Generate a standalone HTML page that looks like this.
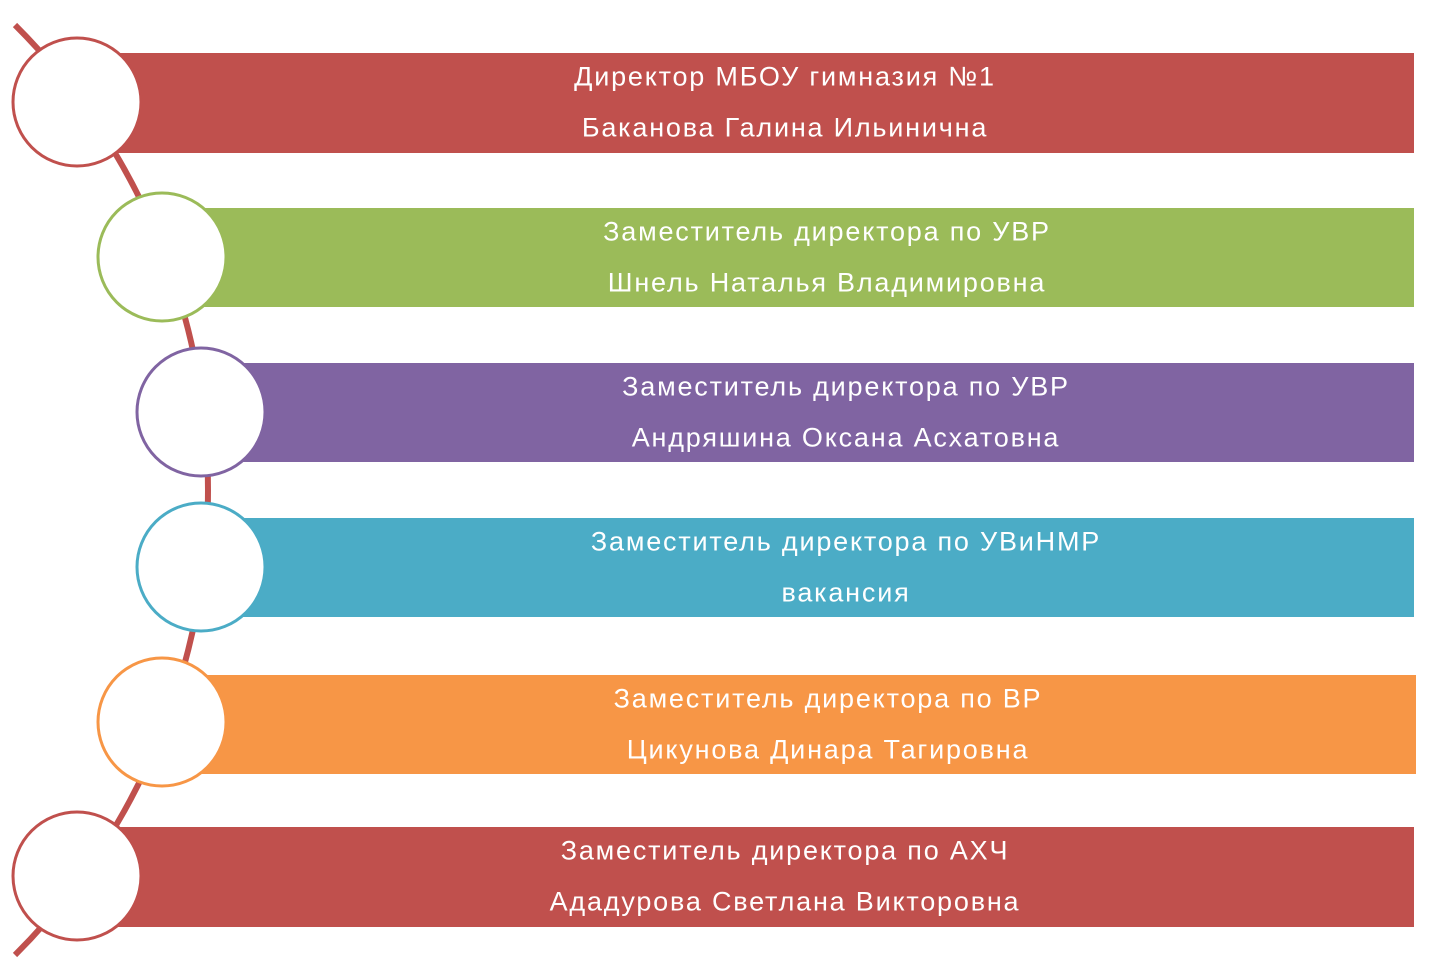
<!DOCTYPE html>
<html><head><meta charset="utf-8"><style>
html,body{margin:0;padding:0;background:#fff;width:1430px;height:980px;overflow:hidden;position:relative;font-family:"Liberation Sans","DejaVu Sans",sans-serif}
.bar{position:absolute;height:100px}
.t{position:absolute;color:#fff;font-size:27px;letter-spacing:1.8px;white-space:nowrap;transform:translate(-50%,-50%)}
svg{position:absolute;left:0;top:0}
</style></head><body>
<div class="bar" style="left:100px;top:53px;width:1314px;background:#C0504D"></div>
<div class="bar" style="left:190px;top:208px;width:1224px;height:99px;background:#9BBB59"></div>
<div class="bar" style="left:230px;top:363px;width:1184px;height:99px;background:#8064A2"></div>
<div class="bar" style="left:230px;top:518px;width:1184px;height:99px;background:#4BACC6"></div>
<div class="bar" style="left:190px;top:675px;width:1226px;height:99px;background:#F79646"></div>
<div class="bar" style="left:100px;top:827px;width:1314px;background:#C0504D"></div>
<svg width="1430" height="980">
<path d="M15 25 A656.7 656.7 0 0 1 15 955" fill="none" stroke="#C0504D" stroke-width="6"/>
<g fill="#fff" stroke-width="3">
<circle cx="77" cy="102" r="64" stroke="#C0504D"/>
<circle cx="162" cy="257" r="64" stroke="#9BBB59"/>
<circle cx="201" cy="412" r="64" stroke="#8064A2"/>
<circle cx="201" cy="567" r="64" stroke="#4BACC6"/>
<circle cx="162" cy="722" r="64" stroke="#F79646"/>
<circle cx="77" cy="876" r="64" stroke="#C0504D"/>
</g>
</svg>
<div class="t" style="left:785px;top:77px">Директор МБОУ гимназия №1</div>
<div class="t" style="left:785px;top:128px">Баканова Галина Ильинична</div>
<div class="t" style="left:827px;top:232px">Заместитель директора по УВР</div>
<div class="t" style="left:827px;top:283px">Шнель Наталья Владимировна</div>
<div class="t" style="left:846px;top:387px">Заместитель директора по УВР</div>
<div class="t" style="left:846px;top:438px">Андряшина Оксана Асхатовна</div>
<div class="t" style="left:846px;top:542px">Заместитель директора по УВиНМР</div>
<div class="t" style="left:846px;top:593px">вакансия</div>
<div class="t" style="left:828px;top:699px">Заместитель директора по ВР</div>
<div class="t" style="left:828px;top:750px">Цикунова Динара Тагировна</div>
<div class="t" style="left:785px;top:851px">Заместитель директора по АХЧ</div>
<div class="t" style="left:785px;top:902px">Ададурова Светлана Викторовна</div>
</body></html>
